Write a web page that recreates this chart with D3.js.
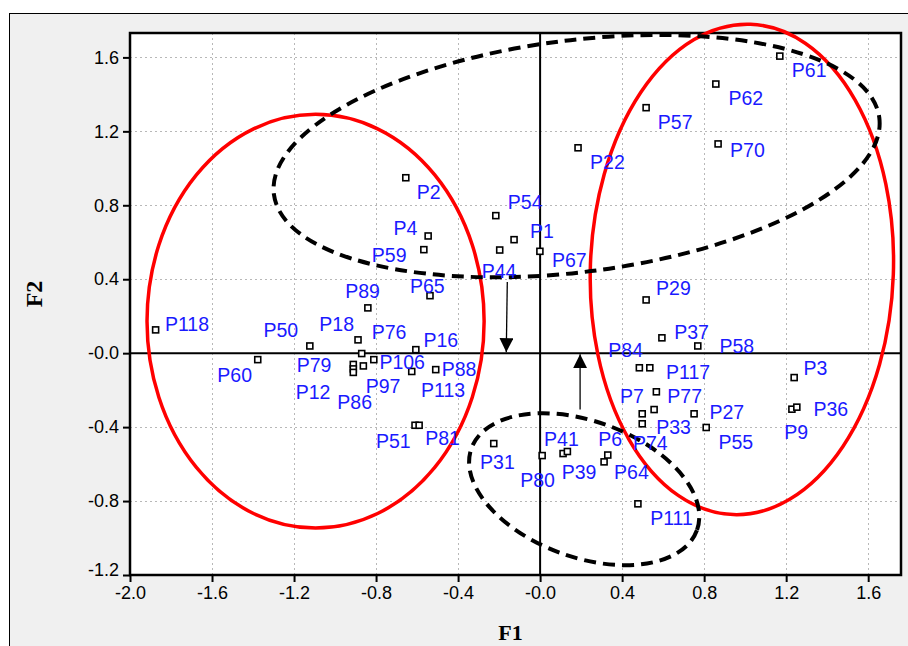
<!DOCTYPE html>
<html>
<head>
<meta charset="utf-8">
<script src="https://cdn.jsdelivr.net/npm/d3@7"></script>
<style>
  html, body { margin: 0; padding: 0; background: #ffffff; }
  svg { display: block; }
</style>
</head>
<body>
<svg id="chart" width="908" height="646"></svg>
<script>
// Observation labels and their factor scores on F1 / F2
const names = ["P61","P62","P57","P70","P22","P2","P54","P1","P44","P67",
  "P4","P59","P65","P89","P118","P50","P18","P76","P106","P16",
  "P88","P113","P97","P79","P12","P86","P60","P51","P81","P29",
  "P37","P58","P84","P117","P3","P77","P7","P33","P74","P27",
  "P55","P9","P36","P31","P80","P41","P39","P6","P64","P111"];
const f1 = [1.169,0.857,0.517,0.868,0.185,-0.655,-0.216,-0.127,-0.197,-0.001,
  -0.546,-0.567,-0.537,-0.840,-1.875,-1.123,-0.888,-0.870,-0.811,-0.606,
  -0.509,-0.626,-0.862,-0.911,-0.911,-0.911,-1.377,-0.610,-0.590,0.517,
  0.594,0.769,0.484,0.535,1.239,0.567,0.556,0.498,0.498,0.751,
  0.810,1.228,1.252,-0.226,0.010,0.112,0.133,0.330,0.312,0.477];
const f2 = [1.607,1.456,1.328,1.132,1.111,0.949,0.744,0.614,0.558,0.551,
  0.634,0.560,0.311,0.245,0.126,0.039,0.072,-0.002,-0.035,0.019,
  -0.089,-0.099,-0.069,-0.061,-0.085,-0.104,-0.035,-0.390,-0.390,0.288,
  0.083,0.039,-0.079,-0.079,-0.132,-0.209,-0.305,-0.328,-0.382,-0.328,
  -0.402,-0.303,-0.292,-0.489,-0.554,-0.543,-0.532,-0.551,-0.588,-0.815];

// Axis ticks
const xTicks = [-2.0,-1.6,-1.2,-0.8,-0.4,0.0,0.4,0.8,1.2,1.6];
const xTickLabels = ["-2.0","-1.6","-1.2","-0.8","-0.4","-0.0","0.4","0.8","1.2","1.6"];
const yTicks = [-1.2,-0.8,-0.4,0.0,0.4,0.8,1.2,1.6];
const yTickLabels = ["-1.2","-0.8","-0.4","-0.0","0.4","0.8","1.2","1.6"];

// Group outlines (centre and semi-axes in factor units, tilt in degrees)
const groupCx = [-1.095, 0.984, 0.178, 0.215];
const groupCy = [0.173, 0.453, 1.066, -0.736];
const groupRx = [0.822, 0.739, 1.488, 0.585];
const groupRy = [1.119, 1.327, 0.627, 0.368];
const groupTilt = [0, 2, -7.2, 20];
const groupKind = ["solid", "solid", "dashed", "dashed"];

// Arrows towards the F1 axis
const arrowFrom = [[-0.160, 0.385], [0.195, -0.305]];
const arrowTo = [[-0.165, 0.0], [0.195, 0.0]];

// Label placement (pixel offsets of label start from the marker)
const labelOffset = {
  P61:[12,21], P62:[12.6,21], P57:[11.7,21], P70:[12,13], P22:[12,21],
  P2:[11,21.6], P54:[12,-6.4], P1:[16,-1.4], P44:[-18,28.3], P67:[12,15.4],
  P4:[-34.7,-1], P59:[-52,12], P65:[-20,-2.4], P89:[-22.7,-9.7], P118:[9.3,1],
  P50:[-46.4,-8.7], P18:[-38.7,-9], P76:[10,-14.7], P106:[5.6,9.6], P16:[7.6,-2.4],
  P88:[6,6.3], P113:[9.3,25.6], P97:[2.4,27.3], P79:[-56.6,7.2], P12:[-57.6,30.3],
  P86:[-16,36.8], P60:[-40.4,22], P51:[-39,22.8], P81:[6,19.5], P29:[10,-5],
  P37:[12.3,1.3], P58:[21.6,6.7], P84:[-31,-10.7], P117:[16.3,11.3], P3:[9.3,-2.7],
  P77:[11,10.7], P7:[-34,-7], P33:[14,20.3], P74:[-9.3,26.5], P27:[15.3,5.3],
  P55:[12.3,21.6], P9:[-7.7,30], P36:[16.6,8.4], P31:[-13.7,25.6], P80:[-22,31],
  P41:[-19,-7.7], P39:[-5.6,27.3], P6:[-9.4,-8.6], P64:[10,17], P111:[12.3,21]
};

const points = names.map((n, i) => ({ name: n, x: f1[i], y: f2[i] }));

const svg = d3.select("#chart");
const W = 908, H = 646;

const x = d3.scaleLinear().domain([-2, 1.76]).range([130, 901]);
const y = d3.scaleLinear().domain([-1.2, 1.732]).range([575, 33]);
const [x0, x1] = x.range();
const [y0, y1] = y.range(); // y0 bottom, y1 top

// Outer panel
svg.append("rect")
  .attr("x", 9.5).attr("y", 13.5)
  .attr("width", W).attr("height", H)
  .attr("fill", "#f0f0f0").attr("stroke", "#000").attr("stroke-width", 1);

// Plot area
svg.append("rect")
  .attr("x", x0).attr("y", y1)
  .attr("width", x1 - x0).attr("height", y0 - y1)
  .attr("fill", "#ffffff");

// Dotted grid
const grid = svg.append("g").attr("stroke", "#b8b8b8").attr("stroke-width", 1)
  .attr("stroke-dasharray", "2,3");
grid.selectAll("line.gx").data(xTicks.slice(1)).join("line")
  .attr("x1", d => Math.round(x(d)) + 0.5).attr("x2", d => Math.round(x(d)) + 0.5)
  .attr("y1", y1).attr("y2", y0);
grid.selectAll("line.gy").data(yTicks.slice(1)).join("line")
  .attr("y1", d => Math.round(y(d)) + 0.5).attr("y2", d => Math.round(y(d)) + 0.5)
  .attr("x1", x0).attr("x2", x1);

// Zero axes
svg.append("line")
  .attr("x1", x0).attr("x2", x1).attr("y1", y(0)).attr("y2", y(0))
  .attr("stroke", "#000").attr("stroke-width", 2);
svg.append("line")
  .attr("x1", x(0)).attr("x2", x(0)).attr("y1", y1).attr("y2", y0)
  .attr("stroke", "#000").attr("stroke-width", 2);

// Axes with ticks
const xAxis = d3.axisBottom(x).tickValues(xTicks)
  .tickFormat((d, i) => xTickLabels[i]).tickSizeInner(7).tickSizeOuter(0).tickPadding(4);
const yAxis = d3.axisLeft(y).tickValues(yTicks)
  .tickFormat((d, i) => yTickLabels[i]).tickSizeInner(7).tickSizeOuter(0).tickPadding(4);

const gx = svg.append("g").attr("transform", `translate(0,${y0})`).call(xAxis);
const gy = svg.append("g").attr("transform", `translate(${x0},0)`).call(yAxis);
[gx, gy].forEach(g => {
  g.select(".domain").remove();
  g.selectAll(".tick line").attr("stroke", "#000").attr("stroke-width", 2);
  g.selectAll(".tick text")
    .attr("fill", "#000")
    .style("font-family", "Arial, 'Liberation Sans', sans-serif")
    .style("font-size", "18px");
});
// the -1.2 label of F2 sits low, near the corner
gy.selectAll(".tick text").filter(d => d === -1.2).attr("dy", "0.05em");

// Plot frame
svg.append("rect")
  .attr("x", x0).attr("y", y1)
  .attr("width", x1 - x0).attr("height", y0 - y1)
  .attr("fill", "none").attr("stroke", "#000").attr("stroke-width", 2.5);

// Group outlines
const groups = groupCx.map((cx, i) => ({
  cx, cy: groupCy[i], rx: groupRx[i], ry: groupRy[i], tilt: groupTilt[i], kind: groupKind[i]
}));
svg.append("g").selectAll("ellipse").data(groups).join("ellipse")
  .attr("transform", d => `translate(${x(d.cx)},${y(d.cy)}) rotate(${d.tilt})`)
  .attr("rx", d => x(d.cx + d.rx) - x(d.cx))
  .attr("ry", d => y(d.cy) - y(d.cy + d.ry))
  .attr("fill", "none")
  .attr("stroke", d => d.kind === "solid" ? "#ff0000" : "#000000")
  .attr("stroke-width", d => d.kind === "solid" ? 3.5 : 4)
  .attr("stroke-dasharray", d => d.kind === "solid" ? null : "12,7");

// Arrows
svg.append("defs").append("marker")
  .attr("id", "head").attr("viewBox", "0 0 10 10")
  .attr("refX", 10).attr("refY", 5)
  .attr("markerWidth", 14).attr("markerHeight", 14)
  .attr("markerUnits", "userSpaceOnUse")
  .attr("orient", "auto")
  .append("path").attr("d", "M0,0 L10,5 L0,10 Z").attr("fill", "#000");
svg.append("g").selectAll("line").data(arrowFrom).join("line")
  .attr("x1", d => x(d[0])).attr("y1", d => y(d[1]))
  .attr("x2", (d, i) => x(arrowTo[i][0])).attr("y2", (d, i) => y(arrowTo[i][1]) + (i === 0 ? -1 : 1))
  .attr("stroke", "#000").attr("stroke-width", 1.3)
  .attr("marker-end", "url(#head)");

// Markers
svg.append("g").selectAll("rect").data(points).join("rect")
  .attr("x", d => x(d.x) - 3).attr("y", d => y(d.y) - 3)
  .attr("width", 6).attr("height", 6)
  .attr("fill", "#ffffff").attr("stroke", "#000").attr("stroke-width", 1.6);

// Labels
svg.append("g").selectAll("text").data(points).join("text")
  .attr("x", d => x(d.x) + labelOffset[d.name][0])
  .attr("y", d => y(d.y) + labelOffset[d.name][1])
  .attr("fill", "#1a1aff")
  .style("font-family", "Arial, 'Liberation Sans', sans-serif")
  .style("font-size", "19.5px")
  .text(d => d.name);

// Axis titles
svg.append("text")
  .attr("x", (x0 + x1) / 2 - 5).attr("y", 640)
  .attr("text-anchor", "middle")
  .style("font-family", "'Liberation Serif', 'Times New Roman', serif")
  .style("font-weight", "bold").style("font-size", "22px")
  .text("F1");
svg.append("text")
  .attr("transform", `translate(42,${(y0 + y1) / 2 - 10}) rotate(-90)`)
  .attr("text-anchor", "middle")
  .style("font-family", "'Liberation Serif', 'Times New Roman', serif")
  .style("font-weight", "bold").style("font-size", "24px")
  .text("F2");
</script>
</body>
</html>
